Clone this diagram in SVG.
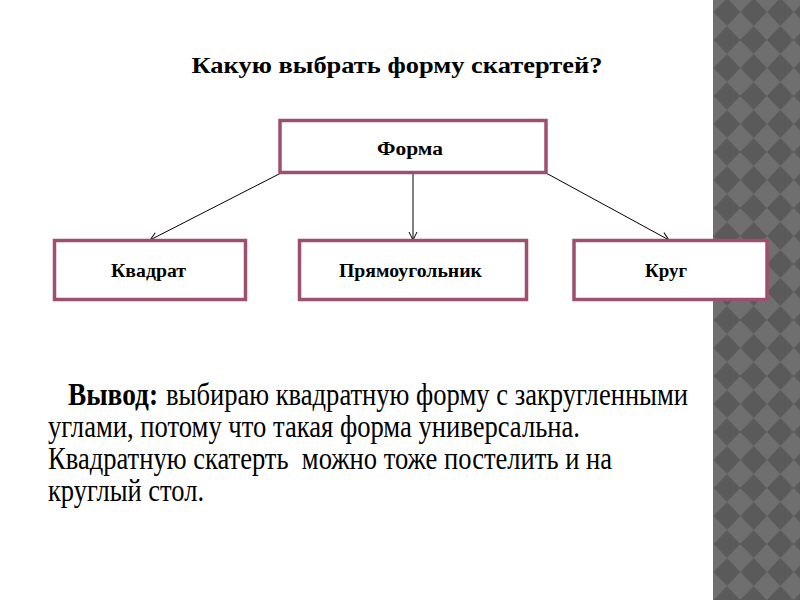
<svg xmlns="http://www.w3.org/2000/svg" width="800" height="600" viewBox="0 0 800 600">
  <defs>
    <pattern id="diamonds" patternUnits="userSpaceOnUse" x="713.6" y="-2" width="26.7" height="28">
      <rect width="26.7" height="28" fill="#6f6f6f"/>
      <polygon points="13.35,0 26.7,14 13.35,28 0,14" fill="#5a5a5a"/>
    </pattern>
    <marker id="arr" markerWidth="10" markerHeight="10" refX="9" refY="5" orient="auto" markerUnits="userSpaceOnUse">
      <path d="M1,1 L9,5 L1,9" fill="none" stroke="#000" stroke-width="1"/>
    </marker>
    <style>
      .box { fill: #fff; stroke: #9e4f70; stroke-width: 3.5; }
      .lbl { font-family: "Liberation Serif", "DejaVu Serif", serif; font-weight: bold; font-size: 18px; fill: #000; text-anchor: middle; }
      .conn { stroke: #000; stroke-width: 1; fill: none; marker-end: url(#arr); }
      .body { font-family: "Liberation Serif", "DejaVu Serif", serif; font-size: 31px; fill: #000; white-space: pre; }
      .title { font-family: "Liberation Serif", "DejaVu Serif", serif; font-weight: bold; font-size: 23px; fill: #000; text-anchor: middle; }
    </style>
  </defs>
  <rect x="0" y="0" width="800" height="600" fill="#fff"/>
  <rect x="713" y="0" width="87" height="600" fill="url(#diamonds)"/>

  <text class="title" x="397" y="73" textLength="411" lengthAdjust="spacingAndGlyphs">Какую выбрать форму скатертей?</text>

  <g id="connectors">
    <line class="conn" x1="281" y1="173" x2="150" y2="240"/>
    <line class="conn" x1="413" y1="173" x2="413" y2="240"/>
    <line class="conn" x1="546" y1="173" x2="669" y2="240"/>
  </g>

  <g id="node-forma">
    <rect class="box" x="280" y="120.5" width="266" height="52"/>
    <text class="lbl" x="410" y="155" textLength="66" lengthAdjust="spacingAndGlyphs">Форма</text>
  </g>
  <g id="node-kvadrat">
    <rect class="box" x="54.5" y="240.5" width="191" height="59"/>
    <text class="lbl" x="148.5" y="277" textLength="75" lengthAdjust="spacingAndGlyphs">Квадрат</text>
  </g>
  <g id="node-pryamougolnik">
    <rect class="box" x="299.5" y="240.5" width="227" height="59"/>
    <text class="lbl" x="410.5" y="277" textLength="143" lengthAdjust="spacingAndGlyphs">Прямоугольник</text>
  </g>
  <g id="node-krug">
    <rect class="box" x="574" y="240.5" width="193" height="59"/>
    <text class="lbl" x="666" y="277" textLength="42" lengthAdjust="spacingAndGlyphs">Круг</text>
  </g>

  <text class="body" x="68" y="405" font-weight="bold" textLength="90" lengthAdjust="spacingAndGlyphs">Вывод:</text>
  <text class="body" x="166" y="405" textLength="522" lengthAdjust="spacingAndGlyphs">выбираю квадратную форму с закругленными</text>
  <text class="body" x="48" y="437" textLength="532" lengthAdjust="spacingAndGlyphs">углами, потому что такая форма универсальна.</text>
  <text class="body" x="48" y="469" textLength="564" lengthAdjust="spacingAndGlyphs">Квадратную скатерть  можно тоже постелить и на</text>
  <text class="body" x="48" y="501" textLength="156" lengthAdjust="spacingAndGlyphs">круглый стол.</text>
</svg>
